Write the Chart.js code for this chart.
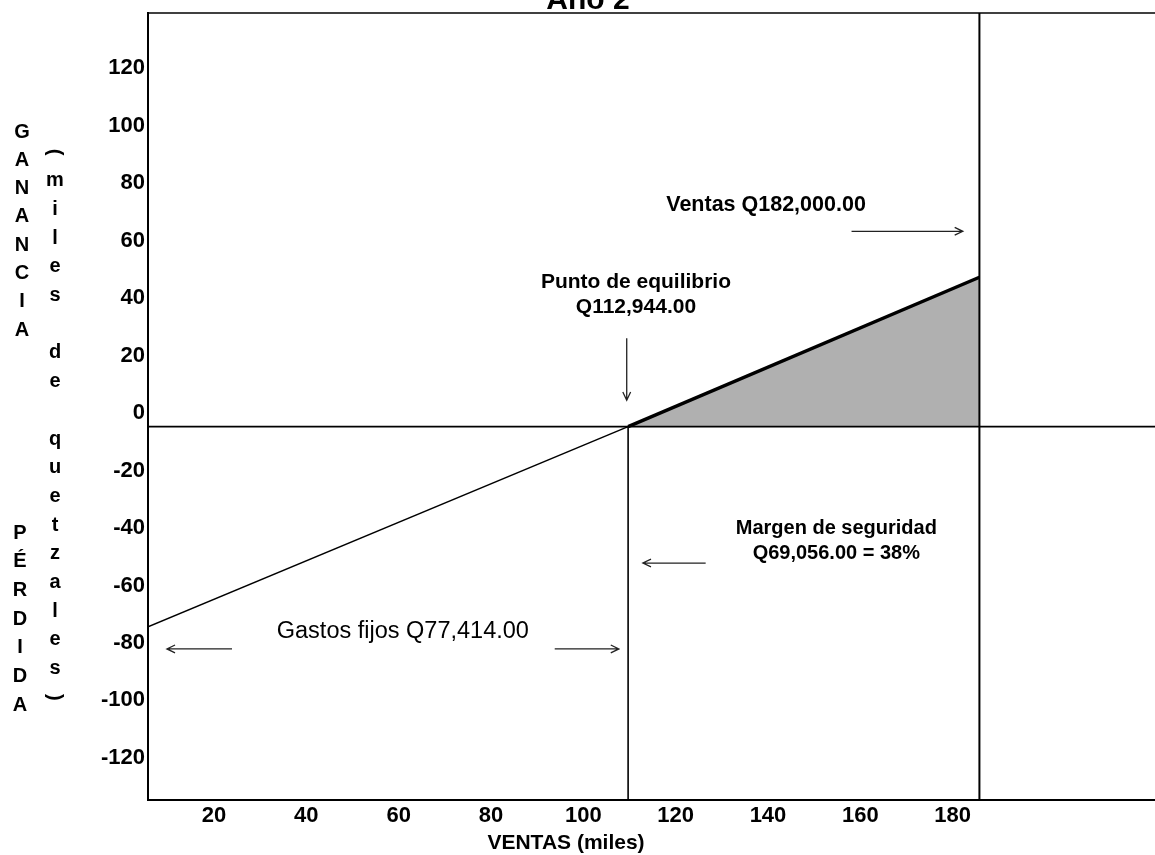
<!DOCTYPE html>
<html>
<head>
<meta charset="utf-8">
<script src="https://cdn.jsdelivr.net/npm/chart.js@4.4.1/dist/chart.umd.min.js"></script>
<style>
  html, body { margin: 0; padding: 0; background: #ffffff; overflow: hidden; }
  #wrap { width: 1170px; height: 855px; }
</style>
</head>
<body>
<div id="wrap"><canvas id="c" width="1170" height="855"></canvas></div>
<script>
// ---------------- data (miles de quetzales) ----------------
const xTickValues = [20, 40, 60, 80, 100, 120, 140, 160, 180];
const yTickValues = [-120, -100, -80, -60, -40, -20, 0, 20, 40, 60, 80, 100, 120];
const xRange = [5.7, 226];
const yRange = [-130, 144];

// loss segment (below break-even) and profit segment (above break-even)
const lossX = [5.7, 109.7];
const lossY = [-69.7, 0];
const profitX = [109.7, 185.8];
const profitY = [0, 52.0];

const breakevenX = 109.7;   // vertical line at the break-even point
const ventasX = 185.8;      // vertical line at total sales

const titleText = 'Año 2';
const xTitle = 'VENTAS (miles)';
const yTitleOuterTop = 'GANANCIA';
const yTitleOuterBottom = 'PÉRDIDA';
const yTitleInner = '(miles de quetzales)';

// annotation texts (anchored in data units)
const notes = [
  { lines: ['Ventas Q182,000.00'], x: 161.2, y: 77.0, align: 'right', font: 'bold 21.5px "Liberation Sans", Arial, sans-serif' },
  { lines: ['Punto de equilibrio', 'Q112,944.00'], x: 111.4, y: 50.3, align: 'center', font: 'bold 21px "Liberation Sans", Arial, sans-serif' },
  { lines: ['Margen de seguridad', 'Q69,056.00 = 38%'], x: 154.8, y: -35.3, align: 'center', font: 'bold 20px "Liberation Sans", Arial, sans-serif' },
  { lines: ['Gastos fijos Q77,414.00'], x: 60.9, y: -71.5, align: 'center', font: '23.5px "Liberation Sans", Arial, sans-serif' }
];
// arrows [x1, y1, x2, y2] in data units, head at (x2, y2)
const arrows = [
  [158.1, 68.0, 182.2, 68.0],
  [109.4, 30.8, 109.4, 9.2],
  [126.5, -47.5, 112.9, -47.5],
  [23.9, -77.4, 9.8, -77.4],
  [93.8, -77.4, 107.7, -77.4]
];

const toPts = (xs, ys) => xs.map((x, i) => ({ x: x, y: ys[i] }));

function drawArrow(ctx, x1, y1, x2, y2) {
  const ang = Math.atan2(y2 - y1, x2 - x1);
  const hl = 9, ha = Math.PI / 7;
  ctx.beginPath();
  ctx.moveTo(x1, y1);
  ctx.lineTo(x2, y2);
  ctx.moveTo(x2 - hl * Math.cos(ang - ha), y2 - hl * Math.sin(ang - ha));
  ctx.lineTo(x2, y2);
  ctx.lineTo(x2 - hl * Math.cos(ang + ha), y2 - hl * Math.sin(ang + ha));
  ctx.stroke();
}

function drawStack(ctx, text, x, y0, step) {
  for (let i = 0; i < text.length; i++) {
    const ch = text[i];
    if (ch === ' ') continue;
    const y = y0 + i * step;
    if (ch === '(' || ch === ')') {
      ctx.save();
      ctx.translate(x, y);
      ctx.rotate(Math.PI / 2);
      ctx.fillText(ch, 0, 0);
      ctx.restore();
    } else {
      ctx.fillText(ch, x, y);
    }
  }
}

const decor = {
  id: 'decor',
  afterDraw(chart) {
    const ctx = chart.ctx;
    const sx = chart.scales.x, sy = chart.scales.y;
    const a = chart.chartArea;
    ctx.save();
    // top frame line
    ctx.strokeStyle = '#000';
    ctx.lineWidth = 1.6;
    ctx.beginPath();
    ctx.moveTo(a.left, a.top);
    ctx.lineTo(a.right, a.top);
    ctx.stroke();

    // title (cut at the top)
    ctx.fillStyle = '#000';
    ctx.font = 'bold 30px "Liberation Sans", Arial, sans-serif';
    ctx.textAlign = 'center';
    ctx.textBaseline = 'alphabetic';
    ctx.fillText(titleText, 588, 9);

    // x axis title
    ctx.font = 'bold 21px "Liberation Sans", Arial, sans-serif';
    ctx.textBaseline = 'middle';
    ctx.fillText(xTitle, 566, 843);

    // y axis titles (stacked letters)
    ctx.font = 'bold 20px "Liberation Sans", Arial, sans-serif';
    drawStack(ctx, yTitleOuterTop, 22, 132, 28.3);
    drawStack(ctx, yTitleOuterBottom, 20, 533, 28.7);
    drawStack(ctx, yTitleInner, 55, 152, 28.7);

    // annotation texts
    notes.forEach(n => {
      ctx.font = n.font;
      ctx.textAlign = n.align;
      ctx.textBaseline = 'middle';
      const px = sx.getPixelForValue(n.x);
      const py = sy.getPixelForValue(n.y);
      n.lines.forEach((ln, i) => ctx.fillText(ln, px, py + i * 25));
    });

    // arrows
    ctx.strokeStyle = '#222';
    ctx.lineWidth = 1.3;
    arrows.forEach(r => {
      drawArrow(ctx, sx.getPixelForValue(r[0]), sy.getPixelForValue(r[1]),
                     sx.getPixelForValue(r[2]), sy.getPixelForValue(r[3]));
    });
    ctx.restore();
  }
};

new Chart(document.getElementById('c'), {
  type: 'scatter',
  data: {
    datasets: [
      { label: 'cero', data: toPts(xRange, [0, 0]), showLine: true, borderColor: '#000', borderWidth: 1.6, pointRadius: 0, fill: false },
      { label: 'equilibrio', data: toPts([breakevenX, breakevenX], [0, yRange[0]]), showLine: true, borderColor: '#000', borderWidth: 1.6, pointRadius: 0, fill: false },
      { label: 'ventas', data: toPts([ventasX, ventasX], [yRange[1], yRange[0]]), showLine: true, borderColor: '#000', borderWidth: 2, pointRadius: 0, fill: false },
      { label: 'pérdida', data: toPts(lossX, lossY), showLine: true, borderColor: '#000', borderWidth: 1.5, pointRadius: 0, fill: false },
      { label: 'ganancia', data: toPts(profitX, profitY), showLine: true, borderColor: '#000', borderWidth: 3.5, pointRadius: 0,
        fill: 'origin', backgroundColor: '#b0b0b0' }
    ]
  },
  options: {
    responsive: false,
    devicePixelRatio: 1,
    animation: false,
    layout: { padding: { top: 13, right: 5, left: 0, bottom: 0 } },
    plugins: { legend: { display: false }, tooltip: { enabled: false }, title: { display: false } },
    scales: {
      x: {
        type: 'linear',
        min: xRange[0], max: xRange[1],
        grid: { display: false, drawTicks: false },
        border: { display: true, color: '#000', width: 2 },
        ticks: { color: '#000', padding: 3, font: { family: '"Liberation Sans", Arial, sans-serif', size: 22, weight: 'bold' } },
        afterBuildTicks: s => { s.ticks = xTickValues.map(v => ({ value: v })); },
        afterFit: s => { s.height = 55; s.paddingLeft = 0; s.paddingRight = 0; }
      },
      y: {
        type: 'linear',
        min: yRange[0], max: yRange[1],
        grid: { display: false, drawTicks: false },
        border: { display: true, color: '#000', width: 2 },
        ticks: { color: '#000', padding: 3, labelOffset: -13.5, font: { family: '"Liberation Sans", Arial, sans-serif', size: 22, weight: 'bold' } },
        afterBuildTicks: s => { s.ticks = yTickValues.map(v => ({ value: v })); },
        afterFit: s => { s.width = 148; s.paddingTop = 0; s.paddingBottom = 0; }
      }
    }
  },
  plugins: [decor]
});
</script>
</body>
</html>
